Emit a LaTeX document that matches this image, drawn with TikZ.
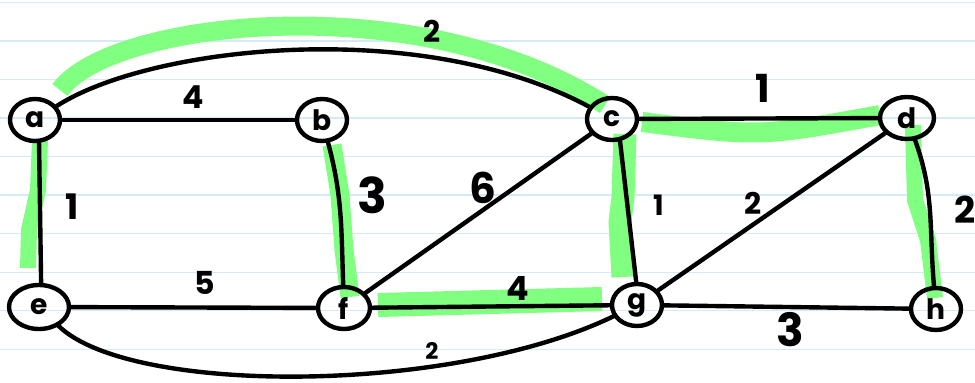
\documentclass[tikz,border=0pt]{standalone}
\usepackage{fontspec}
\setmainfont{Poppins}
\usetikzlibrary{shapes.geometric}
\definecolor{hlgreen}{RGB}{128,255,128}
\definecolor{rulec}{RGB}{212,234,250}

\begin{document}
\begin{tikzpicture}[x=1cm,y=1cm,
    vert/.style={draw,ellipse,line width=2.5pt,minimum width=1.0cm,minimum height=0.84cm,
      inner sep=0pt,font=\fontsize{16}{16}\selectfont\bfseries},
    edge/.style={line width=2.5pt,line cap=round},
    hl/.style={hlgreen,line width=0.34cm},
    wt/.style={inner sep=0pt,font=\fontsize{#1}{#1}\selectfont\bfseries}]
  \useasboundingbox (0,0) rectangle (19.5,7.64);
  \fill[white] (0,0) rectangle (19.5,7.64);
  % ---- ruled paper ----
  \foreach \k in {0,...,9}{
    \draw[rulec,line width=0.8pt] (0,7.586-0.77*\k) -- (19.5,7.586-0.77*\k);}
  % ---- green highlights (tree edges) ----
  \draw[hl,line width=0.38cm] (1.2,5.84) .. controls (2.2,7.24) and (8.4,7.94) .. (12.1,5.54);
  \draw[hl,line width=0.32cm] (0.80,4.84) -- (0.76,3.84) -- (0.58,3.04) -- (0.56,2.28);
  \draw[hl,line width=0.38cm] (6.64,4.74) -- (6.80,3.74) -- (6.88,2.64) -- (7.00,1.70);
  \draw[hl,line width=0.48cm] (7.56,1.54) -- (12.04,1.66);
  \draw[hl,line width=0.40cm] (12.84,5.20) .. controls (15.2,4.9) .. (17.6,5.34);
  \draw[hl,line width=0.46cm] (12.50,4.96) -- (12.46,3.70) -- (12.40,3.20) -- (12.46,2.10);
  \draw[hl,line width=0.32cm] (18.26,5.14) -- (18.30,3.64) -- (18.56,2.84) -- (18.70,1.68);
  % ---- vertices ----
  \node[vert] (a) at (0.70,5.24) {a};
  \node[vert] (b) at (6.44,5.24) {b};
  \node[vert] (c) at (12.24,5.26) {c};
  \node[vert,minimum width=1.08cm] (d) at (18.14,5.28) {d};
  \node[vert,minimum width=1.2cm,minimum height=0.88cm] (e) at (0.78,1.50) {e};
  \node[vert,minimum width=1.04cm] (f) at (6.88,1.48) {f};
  \node[vert] (g) at (12.74,1.54) {g};
  \node[vert] (h) at (18.72,1.46) {h};
  % ---- edges ----
  \draw[edge] (a) -- (b);
  \draw[edge] (a) .. controls (3.0,6.72) and (8.4,7.32) .. (c);
  \draw[edge] (a.-80) -- (e.85);
  \draw[edge] (b) to[out=-75,in=92] (f);
  \draw[edge] (e) -- (f);
  \draw[edge] (e) .. controls (2.6,-0.26) and (9.0,-0.26) .. (g);
  \draw[edge] (f) -- (c);
  \draw[edge] (f) -- (g);
  \draw[edge] (c) -- (d);
  \draw[edge] (c.-70) -- (g.92);
  \draw[edge] (g) -- (d);
  \draw[edge] (g) -- (h);
  \draw[edge] (d) to[out=-70,in=95] (h);
  % ---- weights ----
  \node[wt=17] (wac) at (8.64,7.02) {2};
  \node[wt=18] (wab) at (3.86,5.70) {4};
  \node[wt=20] (wae) at (1.44,3.50) {1};
  \node[wt=28] (wbf) at (7.44,3.74) {3};
  \node[wt=24] (wfc) at (9.66,3.88) {6};
  \node[wt=22] (wcd) at (15.26,5.88) {1};
  \node[wt=16] (wcg) at (13.18,3.54) {1};
  \node[wt=17] (wgd) at (15.06,3.58) {2};
  \node[wt=21] (wdh) at (19.30,3.44) {2};
  \node[wt=18] (wef) at (4.10,1.98) {5};
  \node[wt=19] (wfg) at (10.36,1.88) {4};
  \node[wt=26] (wgh) at (15.80,1.04) {3};
  \node[wt=13] (weg) at (8.64,0.62) {2};
\end{tikzpicture}
\end{document}
